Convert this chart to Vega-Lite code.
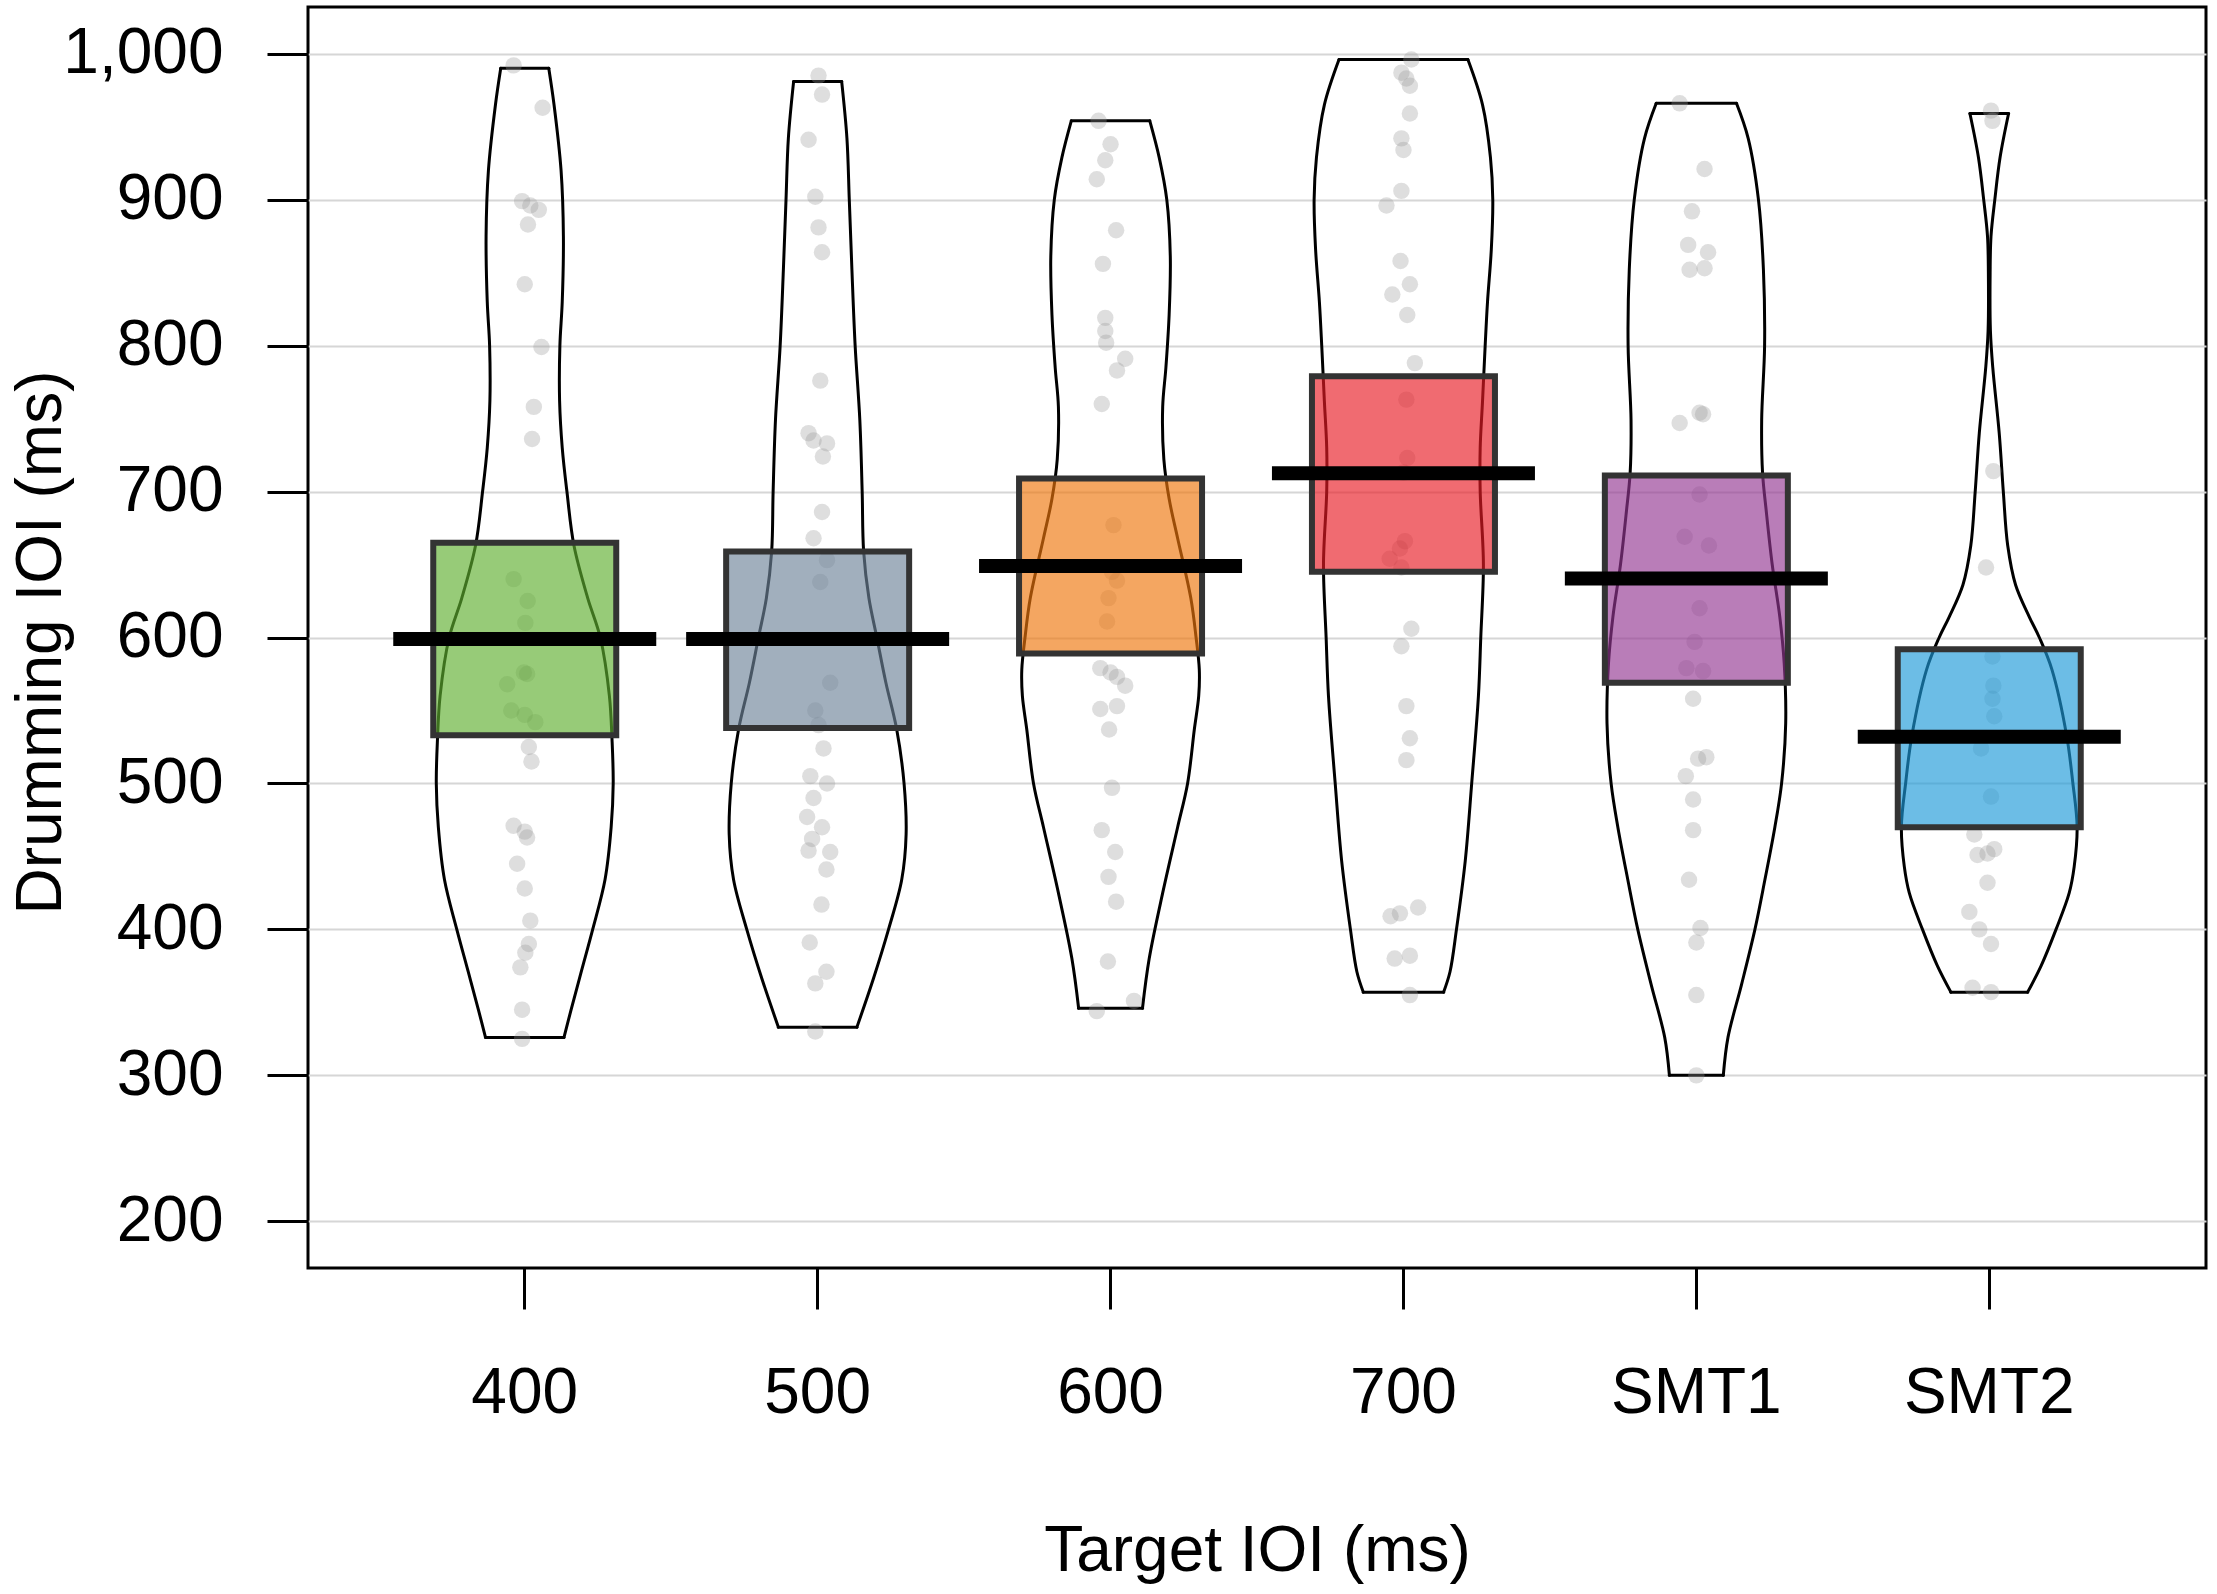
{
  "$schema": "https://vega.github.io/schema/vega-lite/v6.json",
  "width": 1898,
  "height": 1261,
  "autosize": {"type": "none"},
  "padding": {"left": 308, "top": 7, "right": 11, "bottom": 326},
  "background": "white",
  "config": {
    "font": "Liberation Sans",
    "view": {"stroke": "black", "strokeWidth": 3},
    "axis": {
      "labelFont": "Liberation Sans",
      "titleFont": "Liberation Sans",
      "labelFontSize": 64,
      "titleFontSize": 64,
      "labelColor": "black",
      "titleColor": "black",
      "titleFontWeight": "normal",
      "tickColor": "black",
      "tickWidth": 3,
      "tickSize": 41,
      "domain": false
    }
  },
  "datasets": {
    "beans": [
      {"g":"400","s":"R","k":0,"y":326,"off":0.134},{"g":"400","s":"L","k":0,"y":326,"off":-0.134},
      {"g":"400","s":"R","k":1,"y":344,"off":0.157},{"g":"400","s":"L","k":1,"y":344,"off":-0.157},
      {"g":"400","s":"R","k":2,"y":371,"off":0.193},{"g":"400","s":"L","k":2,"y":371,"off":-0.193},
      {"g":"400","s":"R","k":3,"y":400,"off":0.232},{"g":"400","s":"L","k":3,"y":400,"off":-0.232},
      {"g":"400","s":"R","k":4,"y":434,"off":0.274},{"g":"400","s":"L","k":4,"y":434,"off":-0.274},
      {"g":"400","s":"R","k":5,"y":470,"off":0.295},{"g":"400","s":"L","k":5,"y":470,"off":-0.295},
      {"g":"400","s":"R","k":6,"y":500,"off":0.302},{"g":"400","s":"L","k":6,"y":500,"off":-0.302},
      {"g":"400","s":"R","k":7,"y":530,"off":0.298},{"g":"400","s":"L","k":7,"y":530,"off":-0.298},
      {"g":"400","s":"R","k":8,"y":560,"off":0.289},{"g":"400","s":"L","k":8,"y":560,"off":-0.289},
      {"g":"400","s":"R","k":9,"y":600,"off":0.258},{"g":"400","s":"L","k":9,"y":600,"off":-0.258},
      {"g":"400","s":"R","k":10,"y":627,"off":0.215},{"g":"400","s":"L","k":10,"y":627,"off":-0.215},
      {"g":"400","s":"R","k":11,"y":663,"off":0.168},{"g":"400","s":"L","k":11,"y":663,"off":-0.168},
      {"g":"400","s":"R","k":12,"y":700,"off":0.144},{"g":"400","s":"L","k":12,"y":700,"off":-0.144},
      {"g":"400","s":"R","k":13,"y":730,"off":0.128},{"g":"400","s":"L","k":13,"y":730,"off":-0.128},
      {"g":"400","s":"R","k":14,"y":762,"off":0.119},{"g":"400","s":"L","k":14,"y":762,"off":-0.119},
      {"g":"400","s":"R","k":15,"y":800,"off":0.12},{"g":"400","s":"L","k":15,"y":800,"off":-0.12},
      {"g":"400","s":"R","k":16,"y":830,"off":0.128},{"g":"400","s":"L","k":16,"y":830,"off":-0.128},
      {"g":"400","s":"R","k":17,"y":875,"off":0.132},{"g":"400","s":"L","k":17,"y":875,"off":-0.132},
      {"g":"400","s":"R","k":18,"y":920,"off":0.124},{"g":"400","s":"L","k":18,"y":920,"off":-0.124},
      {"g":"400","s":"R","k":19,"y":965,"off":0.1},{"g":"400","s":"L","k":19,"y":965,"off":-0.1},
      {"g":"400","s":"R","k":20,"y":990,"off":0.082},{"g":"400","s":"L","k":20,"y":990,"off":-0.082},
      {"g":"400","s":"T","k":0,"y":990,"off":-0.082},{"g":"400","s":"T","k":1,"y":990,"off":0.082},
      {"g":"400","s":"B","k":0,"y":326,"off":-0.134},{"g":"400","s":"B","k":1,"y":326,"off":0.134},

      {"g":"500","s":"R","k":0,"y":333,"off":0.134},{"g":"500","s":"L","k":0,"y":333,"off":-0.134},
      {"g":"500","s":"R","k":1,"y":366,"off":0.19},{"g":"500","s":"L","k":1,"y":366,"off":-0.19},
      {"g":"500","s":"R","k":2,"y":400,"off":0.242},{"g":"500","s":"L","k":2,"y":400,"off":-0.242},
      {"g":"500","s":"R","k":3,"y":434,"off":0.287},{"g":"500","s":"L","k":3,"y":434,"off":-0.287},
      {"g":"500","s":"R","k":4,"y":465,"off":0.302},{"g":"500","s":"L","k":4,"y":465,"off":-0.302},
      {"g":"500","s":"R","k":5,"y":500,"off":0.295},{"g":"500","s":"L","k":5,"y":500,"off":-0.295},
      {"g":"500","s":"R","k":6,"y":537,"off":0.27},{"g":"500","s":"L","k":6,"y":537,"off":-0.27},
      {"g":"500","s":"R","k":7,"y":569,"off":0.233},{"g":"500","s":"L","k":7,"y":569,"off":-0.233},
      {"g":"500","s":"R","k":8,"y":600,"off":0.202},{"g":"500","s":"L","k":8,"y":600,"off":-0.202},
      {"g":"500","s":"R","k":9,"y":627,"off":0.175},{"g":"500","s":"L","k":9,"y":627,"off":-0.175},
      {"g":"500","s":"R","k":10,"y":659,"off":0.157},{"g":"500","s":"L","k":10,"y":659,"off":-0.157},
      {"g":"500","s":"R","k":11,"y":700,"off":0.152},{"g":"500","s":"L","k":11,"y":700,"off":-0.152},
      {"g":"500","s":"R","k":12,"y":749,"off":0.144},{"g":"500","s":"L","k":12,"y":749,"off":-0.144},
      {"g":"500","s":"R","k":13,"y":800,"off":0.128},{"g":"500","s":"L","k":13,"y":800,"off":-0.128},
      {"g":"500","s":"R","k":14,"y":852,"off":0.117},{"g":"500","s":"L","k":14,"y":852,"off":-0.117},
      {"g":"500","s":"R","k":15,"y":900,"off":0.108},{"g":"500","s":"L","k":15,"y":900,"off":-0.108},
      {"g":"500","s":"R","k":16,"y":942,"off":0.1},{"g":"500","s":"L","k":16,"y":942,"off":-0.1},
      {"g":"500","s":"R","k":17,"y":981,"off":0.082},{"g":"500","s":"L","k":17,"y":981,"off":-0.082},
      {"g":"500","s":"T","k":0,"y":981,"off":-0.082},{"g":"500","s":"T","k":1,"y":981,"off":0.082},
      {"g":"500","s":"B","k":0,"y":333,"off":-0.134},{"g":"500","s":"B","k":1,"y":333,"off":0.134},

      {"g":"600","s":"R","k":0,"y":346,"off":0.109},{"g":"600","s":"L","k":0,"y":346,"off":-0.109},
      {"g":"600","s":"R","k":1,"y":380,"off":0.132},{"g":"600","s":"L","k":1,"y":380,"off":-0.132},
      {"g":"600","s":"R","k":2,"y":425,"off":0.178},{"g":"600","s":"L","k":2,"y":425,"off":-0.178},
      {"g":"600","s":"R","k":3,"y":470,"off":0.229},{"g":"600","s":"L","k":3,"y":470,"off":-0.229},
      {"g":"600","s":"R","k":4,"y":500,"off":0.263},{"g":"600","s":"L","k":4,"y":500,"off":-0.263},
      {"g":"600","s":"R","k":5,"y":537,"off":0.286},{"g":"600","s":"L","k":5,"y":537,"off":-0.286},
      {"g":"600","s":"R","k":6,"y":560,"off":0.301},{"g":"600","s":"L","k":6,"y":560,"off":-0.301},
      {"g":"600","s":"R","k":7,"y":578,"off":0.303},{"g":"600","s":"L","k":7,"y":578,"off":-0.303},
      {"g":"600","s":"R","k":8,"y":600,"off":0.292},{"g":"600","s":"L","k":8,"y":600,"off":-0.292},
      {"g":"600","s":"R","k":9,"y":627,"off":0.274},{"g":"600","s":"L","k":9,"y":627,"off":-0.274},
      {"g":"600","s":"R","k":10,"y":668,"off":0.229},{"g":"600","s":"L","k":10,"y":668,"off":-0.229},
      {"g":"600","s":"R","k":11,"y":695,"off":0.2},{"g":"600","s":"L","k":11,"y":695,"off":-0.2},
      {"g":"600","s":"R","k":12,"y":722,"off":0.182},{"g":"600","s":"L","k":12,"y":722,"off":-0.182},
      {"g":"600","s":"R","k":13,"y":758,"off":0.178},{"g":"600","s":"L","k":13,"y":758,"off":-0.178},
      {"g":"600","s":"R","k":14,"y":785,"off":0.189},{"g":"600","s":"L","k":14,"y":785,"off":-0.189},
      {"g":"600","s":"R","k":15,"y":821,"off":0.2},{"g":"600","s":"L","k":15,"y":821,"off":-0.2},
      {"g":"600","s":"R","k":16,"y":861,"off":0.204},{"g":"600","s":"L","k":16,"y":861,"off":-0.204},
      {"g":"600","s":"R","k":17,"y":900,"off":0.192},{"g":"600","s":"L","k":17,"y":900,"off":-0.192},
      {"g":"600","s":"R","k":18,"y":929,"off":0.166},{"g":"600","s":"L","k":18,"y":929,"off":-0.166},
      {"g":"600","s":"R","k":19,"y":954,"off":0.134},{"g":"600","s":"L","k":19,"y":954,"off":-0.134},
      {"g":"600","s":"T","k":0,"y":954,"off":-0.134},{"g":"600","s":"T","k":1,"y":954,"off":0.134},
      {"g":"600","s":"B","k":0,"y":346,"off":-0.109},{"g":"600","s":"B","k":1,"y":346,"off":0.109},

      {"g":"700","s":"R","k":0,"y":357,"off":0.137},{"g":"700","s":"L","k":0,"y":357,"off":-0.137},
      {"g":"700","s":"R","k":1,"y":371,"off":0.159},{"g":"700","s":"L","k":1,"y":371,"off":-0.159},
      {"g":"700","s":"R","k":2,"y":400,"off":0.181},{"g":"700","s":"L","k":2,"y":400,"off":-0.181},
      {"g":"700","s":"R","k":3,"y":447,"off":0.211},{"g":"700","s":"L","k":3,"y":447,"off":-0.211},
      {"g":"700","s":"R","k":4,"y":500,"off":0.233},{"g":"700","s":"L","k":4,"y":500,"off":-0.233},
      {"g":"700","s":"R","k":5,"y":560,"off":0.256},{"g":"700","s":"L","k":5,"y":560,"off":-0.256},
      {"g":"700","s":"R","k":6,"y":600,"off":0.264},{"g":"700","s":"L","k":6,"y":600,"off":-0.264},
      {"g":"700","s":"R","k":7,"y":650,"off":0.273},{"g":"700","s":"L","k":7,"y":650,"off":-0.273},
      {"g":"700","s":"R","k":8,"y":700,"off":0.262},{"g":"700","s":"L","k":8,"y":700,"off":-0.262},
      {"g":"700","s":"R","k":9,"y":730,"off":0.262},{"g":"700","s":"L","k":9,"y":730,"off":-0.262},
      {"g":"700","s":"R","k":10,"y":762,"off":0.27},{"g":"700","s":"L","k":10,"y":762,"off":-0.27},
      {"g":"700","s":"R","k":11,"y":800,"off":0.279},{"g":"700","s":"L","k":11,"y":800,"off":-0.279},
      {"g":"700","s":"R","k":12,"y":830,"off":0.287},{"g":"700","s":"L","k":12,"y":830,"off":-0.287},
      {"g":"700","s":"R","k":13,"y":866,"off":0.3},{"g":"700","s":"L","k":13,"y":866,"off":-0.3},
      {"g":"700","s":"R","k":14,"y":900,"off":0.305},{"g":"700","s":"L","k":14,"y":900,"off":-0.305},
      {"g":"700","s":"R","k":15,"y":929,"off":0.297},{"g":"700","s":"L","k":15,"y":929,"off":-0.297},
      {"g":"700","s":"R","k":16,"y":965,"off":0.27},{"g":"700","s":"L","k":16,"y":965,"off":-0.27},
      {"g":"700","s":"R","k":17,"y":996,"off":0.22},{"g":"700","s":"L","k":17,"y":996,"off":-0.22},
      {"g":"700","s":"T","k":0,"y":996,"off":-0.22},{"g":"700","s":"T","k":1,"y":996,"off":0.22},
      {"g":"700","s":"B","k":0,"y":357,"off":-0.137},{"g":"700","s":"B","k":1,"y":357,"off":0.137},

      {"g":"SMT1","s":"R","k":0,"y":300,"off":0.092},{"g":"SMT1","s":"L","k":0,"y":300,"off":-0.092},
      {"g":"SMT1","s":"R","k":1,"y":326,"off":0.108},{"g":"SMT1","s":"L","k":1,"y":326,"off":-0.108},
      {"g":"SMT1","s":"R","k":2,"y":362,"off":0.154},{"g":"SMT1","s":"L","k":2,"y":362,"off":-0.154},
      {"g":"SMT1","s":"R","k":3,"y":400,"off":0.2},{"g":"SMT1","s":"L","k":3,"y":400,"off":-0.2},
      {"g":"SMT1","s":"R","k":4,"y":434,"off":0.234},{"g":"SMT1","s":"L","k":4,"y":434,"off":-0.234},
      {"g":"SMT1","s":"R","k":5,"y":470,"off":0.268},{"g":"SMT1","s":"L","k":5,"y":470,"off":-0.268},
      {"g":"SMT1","s":"R","k":6,"y":500,"off":0.291},{"g":"SMT1","s":"L","k":6,"y":500,"off":-0.291},
      {"g":"SMT1","s":"R","k":7,"y":541,"off":0.305},{"g":"SMT1","s":"L","k":7,"y":541,"off":-0.305},
      {"g":"SMT1","s":"R","k":8,"y":582,"off":0.3},{"g":"SMT1","s":"L","k":8,"y":582,"off":-0.3},
      {"g":"SMT1","s":"R","k":9,"y":614,"off":0.285},{"g":"SMT1","s":"L","k":9,"y":614,"off":-0.285},
      {"g":"SMT1","s":"R","k":10,"y":650,"off":0.259},{"g":"SMT1","s":"L","k":10,"y":650,"off":-0.259},
      {"g":"SMT1","s":"R","k":11,"y":686,"off":0.239},{"g":"SMT1","s":"L","k":11,"y":686,"off":-0.239},
      {"g":"SMT1","s":"R","k":12,"y":713,"off":0.226},{"g":"SMT1","s":"L","k":12,"y":713,"off":-0.226},
      {"g":"SMT1","s":"R","k":13,"y":749,"off":0.223},{"g":"SMT1","s":"L","k":13,"y":749,"off":-0.223},
      {"g":"SMT1","s":"R","k":14,"y":800,"off":0.233},{"g":"SMT1","s":"L","k":14,"y":800,"off":-0.233},
      {"g":"SMT1","s":"R","k":15,"y":852,"off":0.229},{"g":"SMT1","s":"L","k":15,"y":852,"off":-0.229},
      {"g":"SMT1","s":"R","k":16,"y":900,"off":0.212},{"g":"SMT1","s":"L","k":16,"y":900,"off":-0.212},
      {"g":"SMT1","s":"R","k":17,"y":942,"off":0.177},{"g":"SMT1","s":"L","k":17,"y":942,"off":-0.177},
      {"g":"SMT1","s":"R","k":18,"y":966,"off":0.137},{"g":"SMT1","s":"L","k":18,"y":966,"off":-0.137},
      {"g":"SMT1","s":"T","k":0,"y":966,"off":-0.137},{"g":"SMT1","s":"T","k":1,"y":966,"off":0.137},
      {"g":"SMT1","s":"B","k":0,"y":300,"off":-0.092},{"g":"SMT1","s":"B","k":1,"y":300,"off":0.092},

      {"g":"SMT2","s":"R","k":0,"y":357,"off":0.131},{"g":"SMT2","s":"L","k":0,"y":357,"off":-0.131},
      {"g":"SMT2","s":"R","k":1,"y":375,"off":0.177},{"g":"SMT2","s":"L","k":1,"y":375,"off":-0.177},
      {"g":"SMT2","s":"R","k":2,"y":400,"off":0.228},{"g":"SMT2","s":"L","k":2,"y":400,"off":-0.228},
      {"g":"SMT2","s":"R","k":3,"y":425,"off":0.273},{"g":"SMT2","s":"L","k":3,"y":425,"off":-0.273},
      {"g":"SMT2","s":"R","k":4,"y":443,"off":0.29},{"g":"SMT2","s":"L","k":4,"y":443,"off":-0.29},
      {"g":"SMT2","s":"R","k":5,"y":470,"off":0.3},{"g":"SMT2","s":"L","k":5,"y":470,"off":-0.3},
      {"g":"SMT2","s":"R","k":6,"y":501,"off":0.285},{"g":"SMT2","s":"L","k":6,"y":501,"off":-0.285},
      {"g":"SMT2","s":"R","k":7,"y":533,"off":0.264},{"g":"SMT2","s":"L","k":7,"y":533,"off":-0.264},
      {"g":"SMT2","s":"R","k":8,"y":578,"off":0.214},{"g":"SMT2","s":"L","k":8,"y":578,"off":-0.214},
      {"g":"SMT2","s":"R","k":9,"y":600,"off":0.171},{"g":"SMT2","s":"L","k":9,"y":600,"off":-0.171},
      {"g":"SMT2","s":"R","k":10,"y":614,"off":0.137},{"g":"SMT2","s":"L","k":10,"y":614,"off":-0.137},
      {"g":"SMT2","s":"R","k":11,"y":636,"off":0.09},{"g":"SMT2","s":"L","k":11,"y":636,"off":-0.09},
      {"g":"SMT2","s":"R","k":12,"y":663,"off":0.063},{"g":"SMT2","s":"L","k":12,"y":663,"off":-0.063},
      {"g":"SMT2","s":"R","k":13,"y":700,"off":0.048},{"g":"SMT2","s":"L","k":13,"y":700,"off":-0.048},
      {"g":"SMT2","s":"R","k":14,"y":740,"off":0.034},{"g":"SMT2","s":"L","k":14,"y":740,"off":-0.034},
      {"g":"SMT2","s":"R","k":15,"y":785,"off":0.012},{"g":"SMT2","s":"L","k":15,"y":785,"off":-0.012},
      {"g":"SMT2","s":"R","k":16,"y":810,"off":0.004},{"g":"SMT2","s":"L","k":16,"y":810,"off":-0.004},
      {"g":"SMT2","s":"R","k":17,"y":850,"off":0.003},{"g":"SMT2","s":"L","k":17,"y":850,"off":-0.003},
      {"g":"SMT2","s":"R","k":18,"y":875,"off":0.006},{"g":"SMT2","s":"L","k":18,"y":875,"off":-0.006},
      {"g":"SMT2","s":"R","k":19,"y":900,"off":0.019},{"g":"SMT2","s":"L","k":19,"y":900,"off":-0.019},
      {"g":"SMT2","s":"R","k":20,"y":929,"off":0.037},{"g":"SMT2","s":"L","k":20,"y":929,"off":-0.037},
      {"g":"SMT2","s":"R","k":21,"y":959,"off":0.066},{"g":"SMT2","s":"L","k":21,"y":959,"off":-0.066},
      {"g":"SMT2","s":"T","k":0,"y":959,"off":-0.066},{"g":"SMT2","s":"T","k":1,"y":959,"off":0.066},
      {"g":"SMT2","s":"B","k":0,"y":357,"off":-0.131},{"g":"SMT2","s":"B","k":1,"y":357,"off":0.131}
    ],
    "pts": [
      {"g":"400","y":992,"off":-0.038},{"g":"400","y":963,"off":0.061},{"g":"400","y":899,"off":-0.009},{"g":"400","y":896,"off":0.019},
      {"g":"400","y":893,"off":0.048},{"g":"400","y":883,"off":0.011},{"g":"400","y":842,"off":0},{"g":"400","y":799,"off":0.057},
      {"g":"400","y":758,"off":0.031},{"g":"400","y":736,"off":0.025},{"g":"400","y":640,"off":-0.038},{"g":"400","y":625,"off":0.01},
      {"g":"400","y":610,"off":0.002},{"g":"400","y":576,"off":-0.003},{"g":"400","y":575,"off":0.008},{"g":"400","y":568,"off":-0.06},
      {"g":"400","y":550,"off":-0.046},{"g":"400","y":547,"off":0},{"g":"400","y":542,"off":0.036},{"g":"400","y":525,"off":0.014},
      {"g":"400","y":515,"off":0.023},{"g":"400","y":471,"off":-0.038},{"g":"400","y":467,"off":0},{"g":"400","y":463,"off":0.008},
      {"g":"400","y":445,"off":-0.026},{"g":"400","y":428,"off":0},{"g":"400","y":406,"off":0.019},{"g":"400","y":390,"off":0.014},
      {"g":"400","y":384,"off":0.002},{"g":"400","y":374,"off":-0.015},{"g":"400","y":345,"off":-0.009},{"g":"400","y":325,"off":-0.009},

      {"g":"500","y":985,"off":0.003},{"g":"500","y":972,"off":0.015},{"g":"500","y":941,"off":-0.031},{"g":"500","y":902,"off":-0.008},
      {"g":"500","y":881,"off":0.003},{"g":"500","y":864,"off":0.015},{"g":"500","y":776,"off":0.009},{"g":"500","y":740,"off":-0.031},
      {"g":"500","y":735,"off":-0.014},{"g":"500","y":733,"off":0.032},{"g":"500","y":724,"off":0.018},{"g":"500","y":686,"off":0.015},
      {"g":"500","y":668,"off":-0.014},{"g":"500","y":653,"off":0.032},{"g":"500","y":638,"off":0.009},{"g":"500","y":569,"off":0.043},
      {"g":"500","y":550,"off":-0.008},{"g":"500","y":540,"off":0.003},{"g":"500","y":524,"off":0.02},{"g":"500","y":505,"off":-0.025},
      {"g":"500","y":500,"off":0.032},{"g":"500","y":490,"off":-0.014},{"g":"500","y":477,"off":-0.036},{"g":"500","y":470,"off":0.015},
      {"g":"500","y":462,"off":-0.019},{"g":"500","y":453,"off":0.043},{"g":"500","y":454,"off":-0.031},{"g":"500","y":441,"off":0.03},
      {"g":"500","y":417,"off":0.013},{"g":"500","y":391,"off":-0.027},{"g":"500","y":371,"off":0.03},{"g":"500","y":363,"off":-0.008},
      {"g":"500","y":330,"off":-0.008},

      {"g":"600","y":954,"off":-0.041},{"g":"600","y":938,"off":0},{"g":"600","y":927,"off":-0.018},{"g":"600","y":914,"off":-0.047},
      {"g":"600","y":879,"off":0.019},{"g":"600","y":856,"off":-0.026},{"g":"600","y":819,"off":-0.018},{"g":"600","y":810,"off":-0.018},
      {"g":"600","y":802,"off":-0.015},{"g":"600","y":791,"off":0.05},{"g":"600","y":783,"off":0.022},{"g":"600","y":760,"off":-0.03},
      {"g":"600","y":677,"off":0.01},{"g":"600","y":645,"off":0.005},{"g":"600","y":639,"off":0.022},{"g":"600","y":627,"off":-0.007},
      {"g":"600","y":611,"off":-0.012},{"g":"600","y":579,"off":-0.035},{"g":"600","y":576,"off":0},{"g":"600","y":573,"off":0.022},
      {"g":"600","y":567,"off":0.05},{"g":"600","y":551,"off":-0.035},{"g":"600","y":553,"off":0.022},{"g":"600","y":537,"off":-0.005},
      {"g":"600","y":497,"off":0.005},{"g":"600","y":468,"off":-0.03},{"g":"600","y":453,"off":0.016},{"g":"600","y":436,"off":-0.007},
      {"g":"600","y":419,"off":0.019},{"g":"600","y":378,"off":-0.009},{"g":"600","y":344,"off":-0.047},{"g":"600","y":351,"off":0.08},

      {"g":"700","y":996,"off":0.027},{"g":"700","y":987,"off":-0.007},{"g":"700","y":983,"off":0.01},{"g":"700","y":978,"off":0.022},
      {"g":"700","y":959,"off":0.022},{"g":"700","y":942,"off":-0.007},{"g":"700","y":934,"off":0},{"g":"700","y":906,"off":-0.007},
      {"g":"700","y":896,"off":-0.058},{"g":"700","y":858,"off":-0.01},{"g":"700","y":842,"off":0.022},{"g":"700","y":835,"off":-0.038},
      {"g":"700","y":821,"off":0.013},{"g":"700","y":788,"off":0.039},{"g":"700","y":763,"off":0.01},{"g":"700","y":723,"off":0.013},
      {"g":"700","y":713,"off":0},{"g":"700","y":666,"off":0.005},{"g":"700","y":661,"off":-0.012},{"g":"700","y":654,"off":-0.047},
      {"g":"700","y":648,"off":-0.007},{"g":"700","y":606,"off":0.027},{"g":"700","y":594,"off":-0.007},{"g":"700","y":553,"off":0.01},
      {"g":"700","y":531,"off":0.022},{"g":"700","y":516,"off":0.01},{"g":"700","y":409,"off":-0.044},{"g":"700","y":411,"off":-0.012},
      {"g":"700","y":415,"off":0.05},{"g":"700","y":380,"off":-0.03},{"g":"700","y":382,"off":0.022},{"g":"700","y":355,"off":0.022},

      {"g":"SMT1","y":966,"off":-0.057},{"g":"SMT1","y":921,"off":0.028},{"g":"SMT1","y":892,"off":-0.015},{"g":"SMT1","y":869,"off":-0.028},
      {"g":"SMT1","y":864,"off":0.04},{"g":"SMT1","y":852,"off":-0.023},{"g":"SMT1","y":853,"off":0.028},{"g":"SMT1","y":754,"off":0.011},
      {"g":"SMT1","y":747,"off":-0.057},{"g":"SMT1","y":753,"off":0.023},{"g":"SMT1","y":698,"off":0.011},{"g":"SMT1","y":669,"off":-0.04},
      {"g":"SMT1","y":663,"off":0.043},{"g":"SMT1","y":620,"off":0.011},{"g":"SMT1","y":597,"off":-0.006},{"g":"SMT1","y":579,"off":-0.034},
      {"g":"SMT1","y":577,"off":0.023},{"g":"SMT1","y":558,"off":-0.011},{"g":"SMT1","y":517,"off":0.006},{"g":"SMT1","y":518,"off":0.034},
      {"g":"SMT1","y":505,"off":-0.036},{"g":"SMT1","y":489,"off":-0.011},{"g":"SMT1","y":468,"off":-0.011},{"g":"SMT1","y":434,"off":-0.025},
      {"g":"SMT1","y":401,"off":0.014},{"g":"SMT1","y":391,"off":0},{"g":"SMT1","y":355,"off":0},{"g":"SMT1","y":300,"off":0},

      {"g":"SMT2","y":961,"off":0.006},{"g":"SMT2","y":954,"off":0.011},{"g":"SMT2","y":714,"off":0.014},{"g":"SMT2","y":648,"off":-0.011},
      {"g":"SMT2","y":587,"off":0.011},{"g":"SMT2","y":567,"off":0.014},{"g":"SMT2","y":558,"off":0.011},{"g":"SMT2","y":546,"off":0.017},
      {"g":"SMT2","y":524,"off":-0.028},{"g":"SMT2","y":491,"off":0.006},{"g":"SMT2","y":465,"off":-0.051},{"g":"SMT2","y":451,"off":-0.04},
      {"g":"SMT2","y":452,"off":-0.006},{"g":"SMT2","y":455,"off":0.017},{"g":"SMT2","y":432,"off":-0.006},{"g":"SMT2","y":412,"off":-0.068},
      {"g":"SMT2","y":400,"off":-0.034},{"g":"SMT2","y":390,"off":0.006},{"g":"SMT2","y":360,"off":-0.057},{"g":"SMT2","y":357,"off":0.006}
    ],
    "stats": [
      {"g":"400","lo":533,"hi":665,"mean":599},
      {"g":"500","lo":538,"hi":659,"mean":599},
      {"g":"600","lo":589,"hi":709,"mean":649},
      {"g":"700","lo":645,"hi":779,"mean":712.5},
      {"g":"SMT1","lo":569,"hi":711,"mean":640.5},
      {"g":"SMT2","lo":470,"hi":592,"mean":532}
    ]
  },
  "encoding": {
    "x": {
      "field": "g",
      "type": "nominal",
      "title": "Target IOI (ms)",
      "scale": {"domain": ["400","500","600","700","SMT1","SMT2"], "paddingInner": 0, "paddingOuter": 0.24},
      "axis": {
        "labelAngle": 0,
        "labelAlign": "center",
        "labelBaseline": "alphabetic",
        "labelPadding": 103,
        "grid": false,
        "titleX": 949,
        "titleY": 302,
        "titleAlign": "center",
        "titleBaseline": "alphabetic"
      }
    }
  },
  "layer": [
    {
      "data": {"name": "beans"},
      "mark": {"type": "line", "stroke": "black", "strokeWidth": 3, "strokeJoin": "round", "strokeCap": "round", "interpolate": "catmull-rom"},
      "encoding": {
        "xOffset": {"field": "off", "type": "quantitative", "scale": {"domain": [-0.5, 0.5]}},
        "y": {
          "field": "y",
          "type": "quantitative",
          "title": "Drumming IOI (ms)",
          "scale": {"domain": [168, 1032], "nice": false, "zero": false},
          "axis": {
            "values": [200, 300, 400, 500, 600, 700, 800, 900, 1000],
            "format": ",.0f",
            "grid": true,
            "gridColor": "#d6d6d6",
            "gridWidth": 2,
            "labelPadding": 44,
            "labelBaseline": "middle",
            "titleAngle": 270,
            "titleX": -248,
            "titleY": 635,
            "titleAlign": "center",
            "titleBaseline": "alphabetic"
          }
        },
        "detail": [{"field": "g"}, {"field": "s"}],
        "order": {"field": "k", "type": "quantitative"}
      }
    },
    {
      "data": {"name": "pts"},
      "mark": {"type": "circle", "size": 270, "color": "#999999", "opacity": 0.32},
      "encoding": {
        "xOffset": {"field": "off", "type": "quantitative", "scale": {"domain": [-0.5, 0.5]}},
        "y": {"field": "y", "type": "quantitative", "title": "Drumming IOI (ms)", "scale": {"domain": [168, 1032], "nice": false, "zero": false}}
      }
    },
    {
      "data": {"name": "stats"},
      "mark": {"type": "bar", "width": 183, "fillOpacity": 0.65, "stroke": "#333333", "strokeWidth": 6},
      "encoding": {
        "y": {"field": "lo", "type": "quantitative", "title": "Drumming IOI (ms)", "scale": {"domain": [168, 1032], "nice": false, "zero": false}},
        "y2": {"field": "hi"},
        "fill": {
          "field": "g",
          "type": "nominal",
          "scale": {"domain": ["400","500","600","700","SMT1","SMT2"], "range": ["#5FAF2F","#6E8499","#EE760D","#E81B25","#933792","#1D9AD9"]},
          "legend": null
        }
      }
    },
    {
      "data": {"name": "stats"},
      "mark": {"type": "tick", "color": "black", "thickness": 14, "size": 263, "opacity": 1},
      "encoding": {
        "y": {"field": "mean", "type": "quantitative", "title": "Drumming IOI (ms)", "scale": {"domain": [168, 1032], "nice": false, "zero": false}}
      }
    }
  ]
}
